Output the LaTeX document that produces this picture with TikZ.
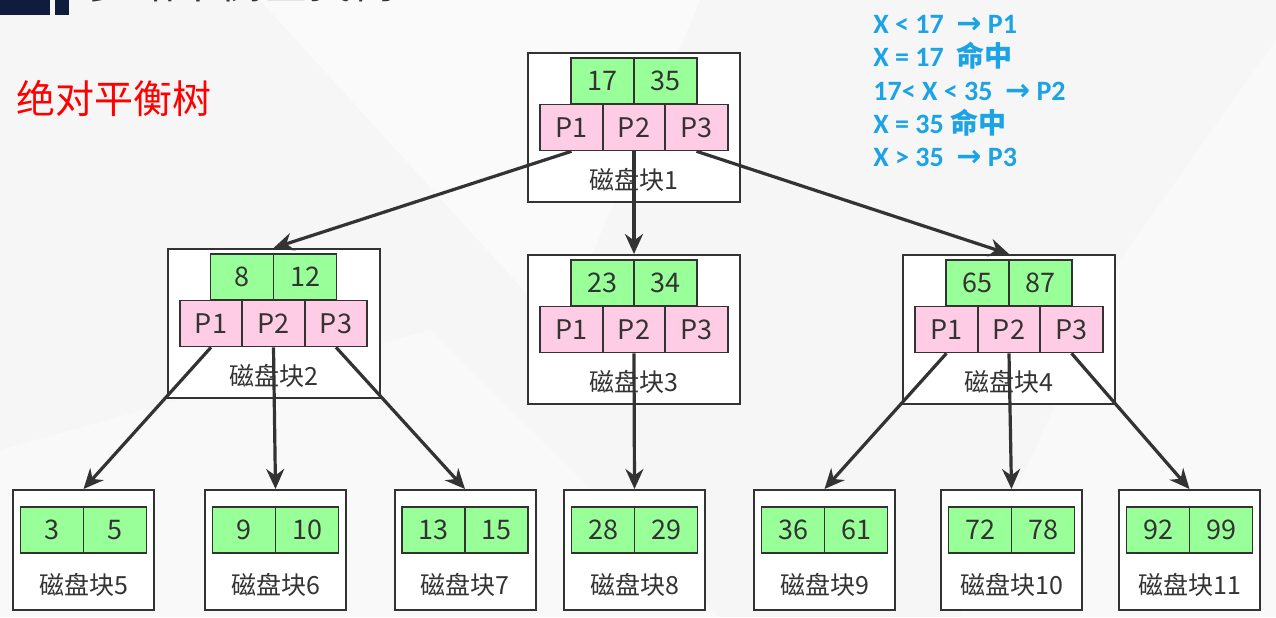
\documentclass[tikz,border=0pt]{standalone}
\usepackage{fontspec}
\setmainfont{Noto Sans CJK SC}
\newfontfamily\latinbold{Carlito}
\newfontfamily\symfont{DejaVu Sans}
\usepackage{xcolor}
\usepackage{tikz}
\usetikzlibrary{arrows.meta}
\definecolor{keygreen}{HTML}{99FF99}
\definecolor{ptrpink}{HTML}{FFCCE6}
\definecolor{ink}{HTML}{333333}
\definecolor{rulesblue}{HTML}{1BA3E6}
\definecolor{navy}{HTML}{101C3C}
\newcommand{\arr}{{\symfont\bfseries\fontsize{15}{14}\selectfont →}}

\begin{document}
\begin{tikzpicture}[x=0.5pt,y=-0.5pt,
    diskbox/.style={draw=ink, line width=1pt, fill=white, minimum width=106pt, minimum height=74.5pt, inner sep=0pt},
    leafbox/.style={diskbox, minimum width=70.5pt, minimum height=60pt},
    keycell/.style={draw=ink, line width=0.8pt, fill=keygreen, minimum width=31.5pt, minimum height=23pt, inner sep=0pt, text=ink, font=\fontsize{13.5}{14}\selectfont},
    ptrcell/.style={keycell, fill=ptrpink, minimum width=31.25pt},
    disktag/.style={text=ink, inner sep=0pt, font=\fontsize{12.5}{14}\selectfont},
    rule/.style={text=rulesblue, anchor=base west, inner sep=0pt, font=\latinbold\bfseries\fontsize{14}{14}\selectfont},
    link/.style={draw=ink, line width=1.6pt, -{Stealth[length=10pt,width=9pt]}}]
    \useasboundingbox (0,0) rectangle (1276,617);
    % background
    \fill[gray!7] (0,0) rectangle (1276,617);
    \fill[white, opacity=0.5] (260,0) -- (700,0) -- (560,330) -- cycle;
    \fill[white, opacity=0.4] (0,450) -- (430,330) -- (720,617) -- (0,617) -- cycle;
    \fill[white, opacity=0.4] (1276,40) -- (1276,617) -- (960,617) -- (1120,260) -- cycle;
    \fill[navy] (0,0) rectangle (50,15);
    \fill[navy] (55,0) rectangle (69,15);
    \node[text=ink, anchor=base west, inner sep=0pt, font=\fontsize{22}{24}\selectfont] (title) at (88,-2) {多路平衡查找树};
    \node[red, anchor=west, inner sep=0pt, font=\fontsize{19.5}{22}\selectfont] (balanced) at (16,98) {绝对平衡树};

    % search rules
    \node[rule] (rule1) at (873,33) {X < 17~~\arr~P1};
    \node[rule] (rule2) at (873,66.5) {X = 17~~{\rmfamily\bfseries 命中}};
    \node[rule] (rule3) at (873,100) {17< X < 35~~\arr~P2};
    \node[rule] (rule4) at (873,133) {X = 35 {\rmfamily\bfseries 命中}};
    \node[rule] (rule5) at (873,166.5) {X > 35~~\arr~P3};

    % inner disk blocks
    \foreach \n/\cx/\cy/\ka/\kb in {1/634/127.5/17/35, 2/273.5/323.5/8/12, 3/634/329.5/23/34, 4/1009/329.5/65/87}{
        \node[diskbox] (disk\n) at (\cx,\cy) {};
        \node[keycell] (disk\n-k1) at (\cx-31.5,\cy-46.5) {\ka};
        \node[keycell] (disk\n-k2) at (\cx+31.5,\cy-46.5) {\kb};
        \node[ptrcell] (disk\n-p1) at (\cx-62.5,\cy) {P1};
        \node[ptrcell] (disk\n-p2) at (\cx,\cy) {P2};
        \node[ptrcell] (disk\n-p3) at (\cx+62.5,\cy) {P3};
        \node[disktag] (disk\n-tag) at (\cx,\cy+52.5) {磁盘块\n};
    }
    % leaf disk blocks
    \foreach \n/\cx/\ka/\kb in {5/83.5/3/5, 6/275.5/9/10, 7/465/13/15, 8/634.5/28/29, 9/824.5/36/61, 10/1011.5/72/78, 11/1189.5/92/99}{
        \node[leafbox] (disk\n) at (\cx,550) {};
        \node[keycell] (disk\n-k1) at (\cx-31.5,530) {\ka};
        \node[keycell] (disk\n-k2) at (\cx+31.5,530) {\kb};
        \node[disktag] (disk\n-tag) at (\cx,585) {磁盘块\n};
    }

    % pointers
    \draw[link] (disk1-p1.south) -- (disk2.north);
    \draw[link] (disk1-p2.south) -- (disk3.north);
    \draw[link] (disk1-p3.south) -- (disk4.north);
    \draw[link] (disk2-p1.south) -- (disk5.north);
    \draw[link] (disk2-p2.south) -- (disk6.north);
    \draw[link] (disk2-p3.south) -- (disk7.north);
    \draw[link] (disk3-p2.south) -- (disk8.north);
    \draw[link] (disk4-p1.south) -- (disk9.north);
    \draw[link] (disk4-p2.south) -- (disk10.north);
    \draw[link] (disk4-p3.south) -- (disk11.north);
\end{tikzpicture}
\end{document}
